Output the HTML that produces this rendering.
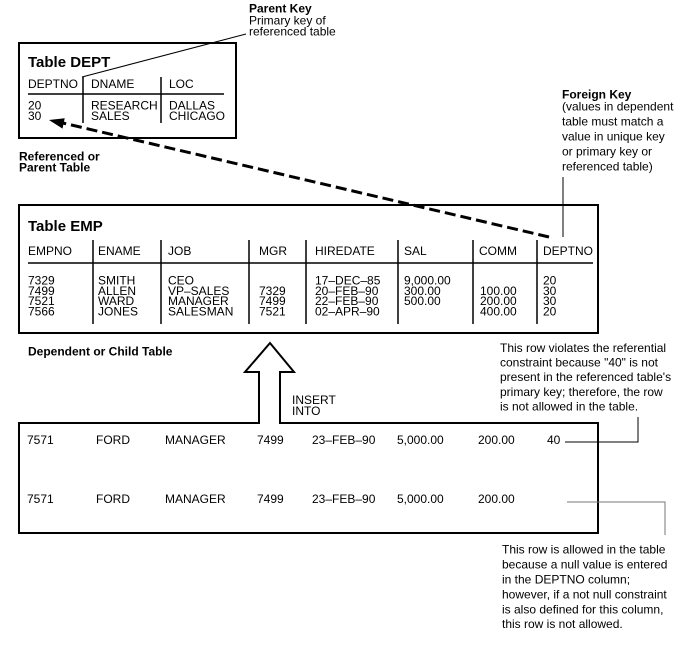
<!DOCTYPE html>
<html>
<head>
<meta charset="utf-8">
<style>
html,body{margin:0;padding:0;background:#fff;}
svg{display:block;}
text{font-family:"Liberation Sans",Arial,Helvetica,sans-serif;font-size:12px;fill:#000;}
.b{font-weight:bold;}
</style>
</head>
<body>
<svg width="688" height="657" viewBox="0 0 688 657" xmlns="http://www.w3.org/2000/svg">
<!-- Parent Key label -->
<text x="249" y="12.5" class="b">Parent Key</text>
<text x="249" y="24.5">Primary key of</text>
<text x="249" y="35.5">referenced table</text>
<line x1="82" y1="77" x2="246" y2="34" stroke="#000" stroke-width="1"/>

<!-- DEPT table -->
<rect x="19" y="43" width="217" height="95" fill="none" stroke="#000" stroke-width="2"/>
<text x="28" y="67" class="b" style="font-size:15px">Table DEPT</text>
<text x="28" y="88">DEPTNO</text>
<text x="91" y="88">DNAME</text>
<text x="169" y="88">LOC</text>
<line x1="28" y1="94" x2="224" y2="94" stroke="#000" stroke-width="1.5"/>
<line x1="83" y1="77" x2="83" y2="123" stroke="#000" stroke-width="1.5"/>
<line x1="161" y1="77" x2="161" y2="123" stroke="#000" stroke-width="1.5"/>
<text x="28" y="109.5">20</text>
<text x="28" y="120">30</text>
<text x="91" y="109.5">RESEARCH</text>
<text x="91" y="120">SALES</text>
<text x="169" y="109.5">DALLAS</text>
<text x="169" y="120">CHICAGO</text>

<text x="19" y="160.5" class="b">Referenced or</text>
<text x="19" y="171.5" class="b">Parent Table</text>

<!-- Foreign Key label -->
<text x="562" y="98.6" class="b">Foreign Key</text>
<text x="562" y="110.4">(values in dependent</text>
<text x="562" y="125.4">table must match a</text>
<text x="562" y="140.4">value in unique key</text>
<text x="562" y="155.4">or primary key or</text>
<text x="562" y="170.4">referenced table)</text>
<line x1="563" y1="177" x2="563" y2="237" stroke="#000" stroke-width="1"/>

<!-- EMP table -->
<rect x="19" y="205" width="579" height="128" fill="none" stroke="#000" stroke-width="2"/>
<text x="28" y="231" class="b" style="font-size:15px">Table EMP</text>
<text x="28" y="255">EMPNO</text>
<text x="98" y="255">ENAME</text>
<text x="168" y="255">JOB</text>
<text x="259" y="255">MGR</text>
<text x="315" y="255">HIREDATE</text>
<text x="404" y="255">SAL</text>
<text x="479" y="255">COMM</text>
<text x="543" y="255">DEPTNO</text>
<line x1="28" y1="263" x2="593" y2="263" stroke="#000" stroke-width="1.5"/>
<g stroke="#000" stroke-width="1.5">
<line x1="93" y1="240" x2="93" y2="324"/>
<line x1="161" y1="240" x2="161" y2="324"/>
<line x1="249" y1="240" x2="249" y2="324"/>
<line x1="306" y1="240" x2="306" y2="324"/>
<line x1="398" y1="240" x2="398" y2="324"/>
<line x1="473" y1="240" x2="473" y2="324"/>
<line x1="537" y1="240" x2="537" y2="324"/>
</g>
<text x="28" y="284.5">7329</text>
<text x="28" y="294.8">7499</text>
<text x="28" y="305.1">7521</text>
<text x="28" y="315.4">7566</text>
<text x="98" y="284.5">SMITH</text>
<text x="98" y="294.8">ALLEN</text>
<text x="98" y="305.1">WARD</text>
<text x="98" y="315.4">JONES</text>
<text x="168" y="284.5">CEO</text>
<text x="168" y="294.8">VP–SALES</text>
<text x="168" y="305.1">MANAGER</text>
<text x="168" y="315.4">SALESMAN</text>
<text x="259" y="294.8">7329</text>
<text x="259" y="305.1">7499</text>
<text x="259" y="315.4">7521</text>
<text x="315" y="284.5">17–DEC–85</text>
<text x="315" y="294.8">20–FEB–90</text>
<text x="315" y="305.1">22–FEB–90</text>
<text x="315" y="315.4">02–APR–90</text>
<text x="404" y="284.5">9,000.00</text>
<text x="404" y="294.8">300.00</text>
<text x="404" y="305.1">500.00</text>
<text x="480" y="294.8">100.00</text>
<text x="480" y="305.1">200.00</text>
<text x="480" y="315.4">400.00</text>
<text x="543" y="284.5">20</text>
<text x="543" y="294.8">30</text>
<text x="543" y="305.1">30</text>
<text x="543" y="315.4">20</text>

<!-- dashed arrow -->
<line x1="549" y1="237" x2="63" y2="123" stroke="#000" stroke-width="3" stroke-dasharray="11,5"/>
<polygon points="49,120 64.7,118.2 62.5,128.6" fill="#000"/>

<text x="28" y="355.3" class="b">Dependent or Child Table</text>

<!-- insert arrow + bottom box -->
<path d="M259,423 L259,372 L245,372 L270,343 L294,372 L280,372 L280,423 L598,423 L598,533 L19,533 L19,423 Z" fill="none" stroke="#000" stroke-width="2" stroke-linejoin="miter"/>
<text x="292" y="404">INSERT</text>
<text x="292" y="415">INTO</text>

<text x="27" y="444">7571</text>
<text x="96" y="444">FORD</text>
<text x="165" y="444">MANAGER</text>
<text x="257" y="444">7499</text>
<text x="312" y="444">23–FEB–90</text>
<text x="397" y="444">5,000.00</text>
<text x="478" y="444">200.00</text>
<text x="547" y="444">40</text>

<text x="27" y="503">7571</text>
<text x="96" y="503">FORD</text>
<text x="165" y="503">MANAGER</text>
<text x="257" y="503">7499</text>
<text x="312" y="503">23–FEB–90</text>
<text x="397" y="503">5,000.00</text>
<text x="478" y="503">200.00</text>

<!-- annotation 1 -->
<polyline points="565,442 638,442 638,417" fill="none" stroke="#000" stroke-width="1"/>
<text x="500" y="352">This row violates the referential</text>
<text x="500" y="366.6">constraint because "40" is not</text>
<text x="500" y="381.2">present in the referenced table's</text>
<text x="500" y="395.8">primary key; therefore, the row</text>
<text x="500" y="410.4">is not allowed in the table.</text>

<!-- annotation 2 -->
<polyline points="567,502 665,502 665,535" fill="none" stroke="#777" stroke-width="1"/>
<text x="502" y="553.5">This row is allowed in the table</text>
<text x="502" y="568.5">because a null value is entered</text>
<text x="502" y="583.5">in the DEPTNO column;</text>
<text x="502" y="598.5">however, if a not null constraint</text>
<text x="502" y="613.5">is also defined for this column,</text>
<text x="502" y="628">this row is not allowed.</text>
</svg>
</body>
</html>
